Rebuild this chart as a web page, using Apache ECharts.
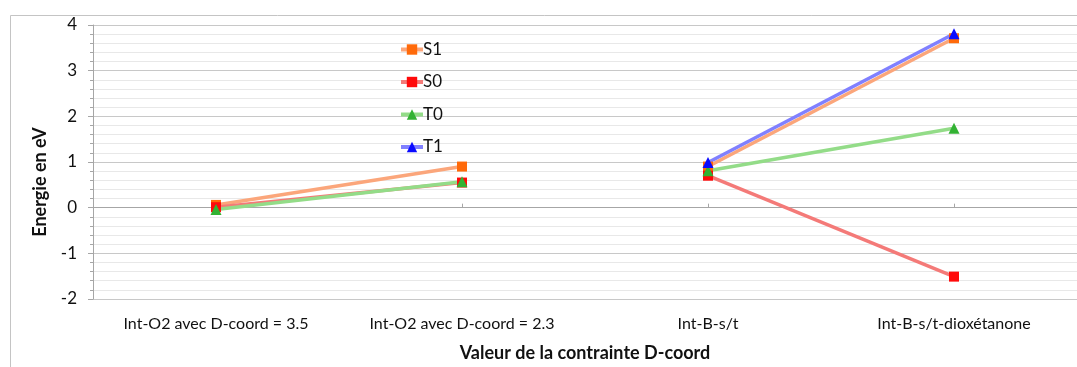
<!DOCTYPE html>
<html>
<head>
<meta charset="utf-8">
<title>Energie en eV</title>
<script src="https://cdn.jsdelivr.net/npm/echarts@6/dist/echarts.min.js"></script>
<style>
  html, body { margin: 0; padding: 0; background: #fff; }
  #chart { width: 1077px; height: 367px; }
</style>
</head>
<body>
<div id="chart"></div>
<script>
// Categories along the D-coord constraint axis
const categories = [
  'Int-O2 avec D-coord = 3.5',
  'Int-O2 avec D-coord = 2.3',
  'Int-B-s/t',
  'Int-B-s/t-dioxétanone'
];

// Energies (eV) per state; null where a state has no value
const S1 = [0.06, 0.90, 0.90, 3.71];
const S0 = [0.01, 0.55, 0.70, -1.51];
const T0 = [-0.04, 0.57, 0.81, 1.74];
const T1 = [null, null, 0.99, 3.81];

// Y axis range and step
const yMin = -2, yMax = 4, yStep = 1;

const states = [
  { name: 'S1', data: S1, line: '#fba67b', mark: '#ff6a0a', symbol: 'rect' },
  { name: 'S0', data: S0, line: '#f47a78', mark: '#ff0a0a', symbol: 'rect' },
  { name: 'T0', data: T0, line: '#93dc88', mark: '#33b233', symbol: 'triangle' },
  { name: 'T1', data: T1, line: '#8080ff', mark: '#0a0aff', symbol: 'triangle' }
];

const FONT = 'Lato, "Open Sans", sans-serif';

// Each state is drawn as two separate segments (first pair / second pair of categories)
const series = [];
states.forEach(st => {
  const parts = [
    st.data.map((v, i) => (i < 2 ? v : null)),
    st.data.map((v, i) => (i >= 2 ? v : null))
  ];
  parts.forEach(part => {
    if (part.every(v => v === null)) return;
    series.push({
      name: st.name,
      type: 'line',
      data: part,
      connectNulls: false,
      symbol: st.symbol,
      symbolSize: st.symbol === 'rect' ? 10 : 11,
      showAllSymbol: true,
      lineStyle: { color: st.line, width: 3.5 },
      itemStyle: { color: st.mark },
      emphasis: { disabled: true },
      z: 2
    });
  });
});

const chart = echarts.init(document.getElementById('chart'), null, { renderer: 'canvas' });
chart.setOption({
  animation: false,
  backgroundColor: '#fff',
  graphic: [{
    type: 'rect',
    left: 8, top: 13,
    shape: { width: 1200, height: 500 },
    style: { fill: 'none', stroke: '#c4c4c4', lineWidth: 1 },
    silent: true,
    z: -10
  }],
  legend: {
    orient: 'vertical',
    left: 394,
    top: 36,
    itemWidth: 22,
    itemHeight: 13,
    itemGap: 15.5,
    data: ['S1', 'S0', 'T0', 'T1'],
    lineStyle: { width: 4 },
    textStyle: { fontFamily: FONT, fontSize: 17, color: '#111', padding: [0, 0, 0, -5] }
  },
  grid: { left: 93, right: 0, top: 25, bottom: 68, containLabel: false },
  xAxis: {
    type: 'category',
    data: categories,
    boundaryGap: true,
    name: 'Valeur de la contrainte D-coord',
    nameLocation: 'middle',
    nameGap: 45,
    nameTextStyle: { fontFamily: FONT, fontSize: 18, fontWeight: 'bold', color: '#111' },
    axisLine: { lineStyle: { color: '#a6a6a6', width: 1 } },
    axisTick: { show: true, alignWithLabel: true, inside: true, length: 4, lineStyle: { color: '#a6a6a6' } },
    axisLabel: { fontFamily: FONT, fontSize: 16, color: '#111', margin: 17 },
    splitLine: { show: false }
  },
  yAxis: {
    type: 'value',
    min: yMin, max: yMax, interval: yStep,
    name: 'Energie en eV',
    nameLocation: 'middle',
    nameGap: 44,
    nameTextStyle: { fontFamily: FONT, fontSize: 18, fontWeight: 'bold', color: '#111', padding: [0, 40, 0, 0] },
    axisLine: { show: true, lineStyle: { color: '#a6a6a6', width: 1 } },
    axisTick: { show: true, length: 5, lineStyle: { color: '#a6a6a6' } },
    minorTick: { show: true, splitNumber: 5, length: 3, lineStyle: { color: '#a6a6a6' } },
    axisLabel: { fontFamily: FONT, fontSize: 17, color: '#111', margin: 16 },
    splitLine: { show: true, lineStyle: { color: '#c8c8c8', width: 1 } },
    minorSplitLine: { show: true, lineStyle: { color: '#e8e8e8', width: 1 } }
  },
  series: series
});
</script>
</body>
</html>
